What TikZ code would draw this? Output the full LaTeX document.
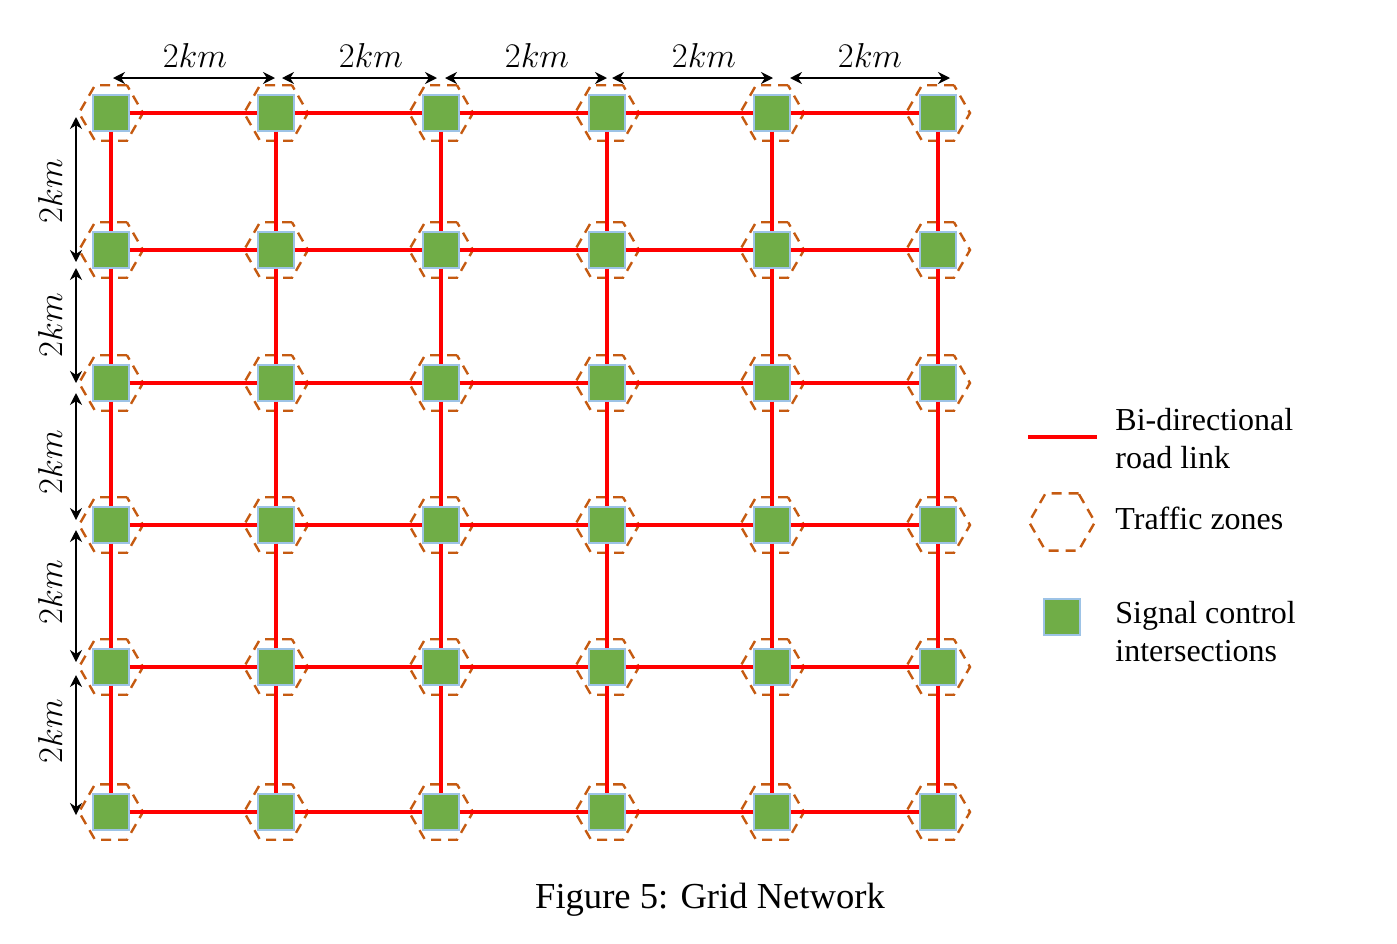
\documentclass[tikz,border=0pt]{standalone}
\usepackage{fontspec}
\setmainfont{Liberation Serif}
\usetikzlibrary{arrows.meta,shapes.geometric}
\definecolor{zonecol}{RGB}{197,90,17}
\definecolor{signalgreen}{RGB}{112,173,71}
\definecolor{signalborder}{RGB}{157,195,230}
\definecolor{linkred}{RGB}{255,0,0}

\begin{document}
\begin{tikzpicture}[x=0.5pt,y=-0.5pt,
  zone/.style={regular polygon,regular polygon sides=6,minimum size=32pt,inner sep=0pt,
    draw=zonecol,dash pattern=on 5pt off 3.5pt,line width=1.2pt},
  signal/.style={rectangle,minimum size=18pt,inner sep=0pt,fill=signalgreen,
    draw=signalborder,line width=0.6pt},
  roadlink/.style={draw=linkred,line width=1.8pt},
  dist/.style={{Stealth[length=6pt,width=6pt]}-{Stealth[length=6pt,width=6pt]},line width=0.8pt},
  kmlabel/.style={font=\fontsize{16}{19}\selectfont,inner sep=0pt},
  legendtext/.style={font=\fontsize{16}{19}\selectfont,align=left,anchor=west,inner sep=0pt}]

  \useasboundingbox (0,0) rectangle (1397,943);

  % Traffic zones and signal control intersections
  \foreach \r/\y in {1/113,2/250,3/383,4/525,5/667,6/812}{
    \foreach \c/\x in {1/111,2/276,3/441,4/607,5/772,6/938}{
      \node[zone] (z\r\c) at (\x,\y) {};
      \node[signal] (s\r\c) at (\x,\y) {};
      }
  }

  % Bi-directional road links between neighbours
  \foreach \r in {1,...,6}{
    \foreach \c [evaluate=\c as \n using int(\c+1)] in {1,...,5}{
      \draw[roadlink] (s\r\c) -- (s\r\n);
      \draw[roadlink] (s\c\r) -- (s\n\r);
      }
  }

  % Distances along the top
  \foreach \i/\a/\b/\m in {1/113/275/195,2/282/437/371,3/445/607/537,4/612/773/704,5/790/950/870}{
    \coordinate (ta\i) at (\a,78);
    \coordinate (tb\i) at (\b,78);
    \draw[dist] (ta\i) -- (tb\i);
    \node[kmlabel] (tl\i) at (\m,55) {$2km$};
  }

  % Distances along the left side
  \foreach \i/\a/\b/\m in {1/117/262/191,2/268/383/325,3/393/520/462,4/530/662/592,5/675/815/731}{
    \coordinate (la\i) at (76,\a);
    \coordinate (lb\i) at (76,\b);
    \draw[dist] (la\i) -- (lb\i);
    \node[kmlabel,rotate=90] (ll\i) at (50,\m) {$2km$};
  }

  % Legend
  \coordinate (lk1) at (1028,437);
  \coordinate (lk2) at (1097,437);
  \draw[roadlink] (lk1) -- (lk2);
  \node[legendtext] (lt1) at (1115,439) {Bi-directional\\road link};
  \node[zone,minimum size=33pt] (lz) at (1062,522) {};
  \node[legendtext] (lt2) at (1115,518) {Traffic zones};
  \node[signal] (ls) at (1062,617) {};
  \node[legendtext] (lt3) at (1115,632) {Signal control\\intersections};

  % Caption
  \node[font=\fontsize{18.3}{22}\selectfont] (cap) at (710,900) {Figure 5: Grid Network};

\end{tikzpicture}
\end{document}
